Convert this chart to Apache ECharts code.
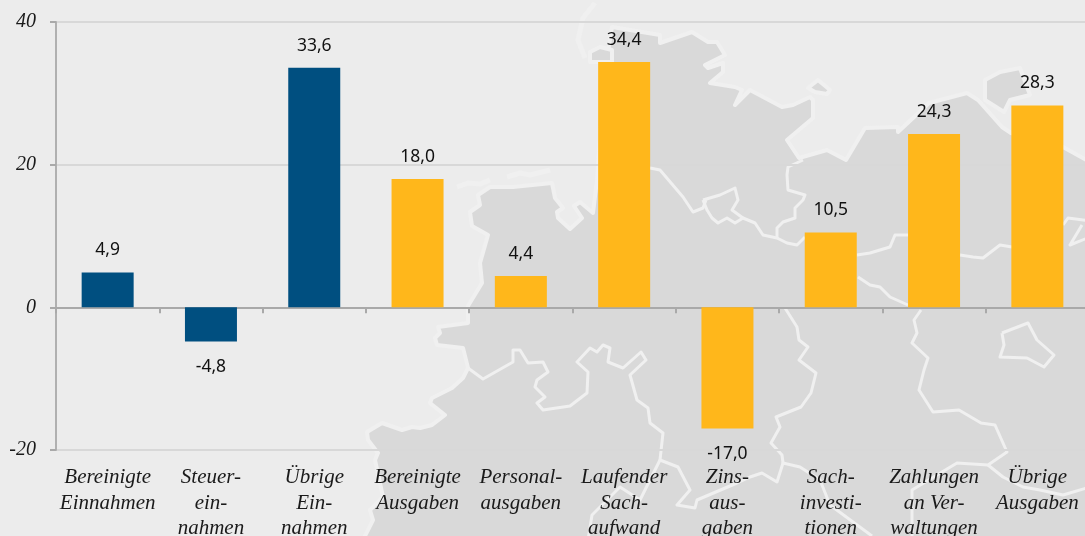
<!DOCTYPE html>
<html>
<head>
<meta charset="utf-8">
<style>
html,body{margin:0;padding:0;background:#ececec;overflow:hidden}
#chart{width:1085px;height:536px}
</style>
<script src="https://cdn.jsdelivr.net/npm/echarts@6/dist/echarts.min.js"></script>
</head>
<body>
<div id="chart"></div>
<script>
const categories = [
    'Bereinigte\nEinnahmen', 'Steuer-\nein-\nnahmen', 'Übrige\nEin-\nnahmen',
    'Bereinigte\nAusgaben', 'Personal-\nausgaben', 'Laufender\nSach-\naufwand',
    'Zins-\naus-\ngaben', 'Sach-\ninvesti-\ntionen', 'Zahlungen\nan Ver-\nwaltungen',
    'Übrige\nAusgaben'
]
const values = [4.9, -4.8, 33.6, 18.0, 4.4, 34.4, -17.0, 10.5, 24.3, 28.3]
const revenueBars = 3 // the first three bars are the blue ones

// background map of Germany, pixels of the picture, only decoration
const land = [[468,306],[482,283],[480,263],[488,235],[472,226],[470,212],[480,205],[478,195],[490,187],[513,187],[552,183],[555,198],[563,208],[557,212],[558,218],[570,229],[582,218],[574,206],[580,202],[593,213],[597,180],[605,70],[612,27],[660,35],[660,43],[692,32],[708,42],[717,42],[725,55],[705,65],[708,68],[723,63],[723,72],[710,83],[735,87],[742,90],[735,105],[750,90],[782,107],[793,105],[810,97],[813,100],[813,118],[787,140],[797,155],[799,158],[827,150],[846,160],[865,128],[898,127],[898,132],[929,103],[967,93],[978,100],[1002,127],[1011,133],[1063,147],[1090,162],[1090,540],[363,540],[373,520],[370,510],[383,497],[375,460],[378,453],[368,440],[367,432],[382,423],[402,430],[412,427],[420,428],[432,425],[445,415],[430,403],[432,398],[452,388],[463,378],[468,368],[463,348],[437,345],[435,338],[440,333],[438,327],[468,323]]
const islands = [
    [[985,80],[1000,72],[1020,68],[1030,95],[1010,100],[1004,112],[985,100]],
    [[808,88],[818,80],[830,90],[827,94],[815,92]],
    [[590,52],[600,47],[612,50],[612,62],[590,62]]
]
const borders = [
    [[468,368],[483,379],[513,362],[513,350],[520,350],[528,363],[543,362],[548,372],[537,380],[535,387],[545,397],[537,403],[543,410],[570,406],[587,393],[588,372],[577,362],[590,348],[597,352],[603,345],[610,348],[608,362],[623,368],[641,352],[646,360],[630,375],[637,400],[648,408],[650,423],[663,433],[660,460],[678,467],[690,490],[677,505],[695,508],[697,500],[737,483],[750,477],[762,473],[777,482],[783,463],[800,467],[820,480],[830,505],[872,536]],
    [[785,308],[797,327],[799,340],[808,347],[799,360],[816,373],[811,393],[801,407],[776,417],[780,427],[771,443],[782,455],[783,463]],
    [[921,310],[914,320],[917,333],[912,343],[928,358],[924,370],[919,390],[933,412],[959,410],[981,423],[995,425],[1007,452],[988,465],[957,463],[912,490],[912,540]],
    [[988,465],[1003,477],[1023,487],[1040,490],[1063,495],[1090,487]],
    [[650,168],[660,170],[683,197],[693,212],[703,208],[706,200]],
    [[703,200],[720,195],[735,188],[738,200],[732,210],[743,218],[735,223],[727,218],[718,223],[712,218],[707,210],[703,200]],
    [[743,218],[755,223],[763,235],[777,238],[787,243],[797,245],[805,237]],
    [[777,238],[777,228],[783,222],[795,218],[795,208],[803,200],[805,195],[788,190],[787,175],[788,167],[803,160]],
    [[857,255],[870,253],[890,247],[895,235],[908,235]],
    [[960,255],[973,257],[983,258],[1000,245],[1012,247]],
    [[858,277],[870,285],[880,287],[890,297],[908,305]],
    [[1063,225],[1068,218],[1090,221]],
    [[1090,237],[1070,245],[1082,225]],
    [[1002,333],[1028,323],[1037,340],[1054,355],[1044,367],[1027,358],[1000,357],[1004,345],[1002,333]],
    [[588,540],[592,515],[620,487],[640,500],[660,460]]
]
const shoals = [
    [[457,187],[468,183],[480,184],[490,180]],
    [[507,177],[520,173],[530,175],[550,170]],
    [[595,3],[583,18],[578,40],[585,58]]
]

const mapStroke = '#f0f0f0'
const poly = (points) => ({
    type: 'polygon', z: -10, silent: true,
    shape: { points: points },
    style: { fill: '#d9d9d9', stroke: mapStroke, lineWidth: 4, lineJoin: 'round' }
})
const line = (points, width) => ({
    type: 'polyline', z: -9, silent: true,
    shape: { points: points },
    style: { fill: null, stroke: mapStroke, lineWidth: width, lineJoin: 'round' }
})

const serif = { fontFamily: 'Liberation Serif', fontStyle: 'italic', color: '#1a1a1a' }

let myChart = echarts.init(document.getElementById('chart'))
myChart.setOption({
    animation: false,
    backgroundColor: '#ececec',
    graphic: {
        elements: [
            poly(land),
            ...islands.map(poly),
            ...borders.map(b => line(b, 3)),
            ...shoals.map(s => line(s, 5))
        ]
    },
    grid: { left: 56, top: 22, width: 1033, height: 428, outerBoundsMode: 'none' },
    xAxis: [
        {
            type: 'category',
            data: categories,
            position: 'bottom',
            axisLine: { show: false, onZero: false },
            axisTick: { show: false },
            axisLabel: {
                ...serif, interval: 0, fontSize: 21, lineHeight: 25.5, margin: 15, align: 'center'
            }
        },
        {
            type: 'category',
            data: categories,
            position: 'bottom',
            axisLine: { onZero: true, lineStyle: { color: '#a9a9a9', width: 2 } },
            axisTick: { show: true, length: 6, lineStyle: { color: '#a9a9a9', width: 2 } },
            axisLabel: { show: false }
        }
    ],
    yAxis: {
        type: 'value',
        min: -20,
        max: 40,
        interval: 20,
        axisLine: { show: true, onZero: false, lineStyle: { color: '#b0b0b0', width: 2 } },
        axisTick: { show: true, length: 6, lineStyle: { color: '#a9a9a9', width: 2 } },
        axisLabel: { ...serif, fontSize: 20, margin: 20 },
        splitLine: { lineStyle: { color: '#d8d8d8', width: 2 } }
    },
    series: [
        {
            type: 'bar',
            barWidth: 52,
            z: 3,
            data: values.map(v => ({
                value: v,
                label: v < 0 ? { position: 'bottom', distance: 16 } : { position: 'top', distance: 13 }
            })),
            itemStyle: {
                color: p => p.dataIndex < revenueBars ? '#004f80' : '#ffb71b'
            },
            label: {
                show: true,
                fontFamily: 'Noto Sans',
                fontSize: 17.5,
                color: '#111',
                formatter: p => p.value.toFixed(1).replace('.', ',')
            }
        }
    ]
})
</script>
</body>
</html>
